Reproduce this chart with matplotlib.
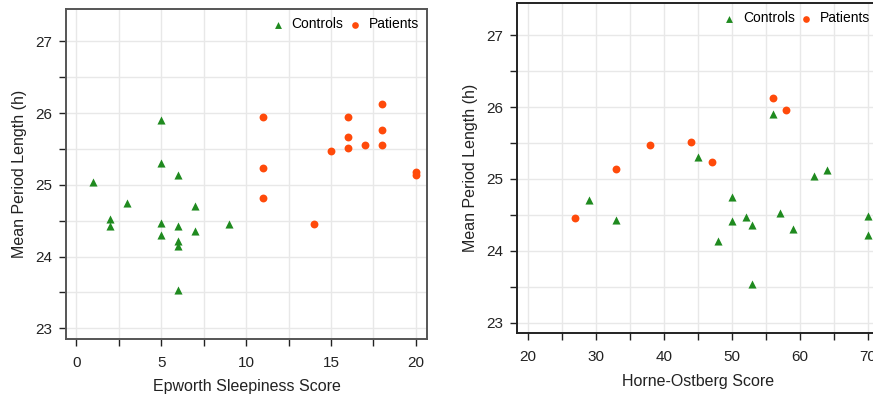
import matplotlib
matplotlib.use("Agg")
import matplotlib.pyplot as plt
from matplotlib.ticker import MultipleLocator

plt.rcParams['font.family'] = ['Liberation Sans', 'DejaVu Sans']
plt.rcParams['font.size'] = 10

# Epworth Sleepiness Score panel
ess_controls_x = [1, 2, 2, 3, 5, 5, 5, 5, 6, 6, 6, 6, 6, 7, 7, 9]
ess_controls_y = [25.04, 24.52, 24.42, 24.75, 25.90, 25.31, 24.47, 24.30,
                  25.13, 24.43, 24.21, 24.14, 23.53, 24.70, 24.36, 24.46]
ess_patients_x = [11, 11, 11, 14, 15, 16, 16, 16, 17, 18, 18, 18, 20, 20]
ess_patients_y = [25.95, 25.24, 24.81, 24.46, 25.47, 25.94, 25.66, 25.51,
                  25.56, 26.13, 25.76, 25.56, 25.18, 25.14]

# Horne-Ostberg Score panel (visible part)
ho_controls_x = [29, 33, 45, 48, 50, 50, 52, 53, 53, 56, 57, 59, 62, 64, 70, 70]
ho_controls_y = [24.70, 24.43, 25.31, 24.14, 24.75, 24.42, 24.47, 24.36,
                 23.53, 25.91, 24.52, 24.30, 25.04, 25.13, 24.48, 24.22]
ho_patients_x = [27, 33, 38, 44, 47, 56, 58]
ho_patients_y = [24.46, 25.14, 25.47, 25.51, 25.24, 26.13, 25.96]

GREEN = '#1f8a1f'
ORANGE = '#ff4a0a'

fig = plt.figure(figsize=(8.73, 3.98), dpi=100)
ax1 = fig.add_axes([0.0756, 0.1482, 0.4135, 0.8291])
ax2 = fig.add_axes([0.5926, 0.1626, 0.4135, 0.8299])


def style(ax, xlim, xmaj, xmin, xlabel, frame_color):
    ax.set_xlim(*xlim)
    ax.set_ylim(22.85, 27.45)
    ax.xaxis.set_major_locator(MultipleLocator(xmaj))
    ax.xaxis.set_minor_locator(MultipleLocator(xmin))
    ax.yaxis.set_major_locator(MultipleLocator(1))
    ax.yaxis.set_minor_locator(MultipleLocator(0.5))
    ax.grid(True, which='both', color='#e8e8e8', linewidth=1.0)
    ax.set_axisbelow(True)
    for s in ax.spines.values():
        s.set_color(frame_color)
        s.set_linewidth(1.4)
    ax.tick_params(which='both', direction='out', length=5, width=1,
                   color='#222222', labelcolor='#222222', labelsize=11)
    ax.tick_params(axis='x', which='both', pad=7)
    ax.tick_params(axis='y', which='both', pad=5)
    ax.tick_params(which='both', top=False, right=False)
    ax.set_xlabel(xlabel, fontsize=11.5, color='#222222', labelpad=7)
    ax.set_ylabel('Mean Period Length (h)', fontsize=11.5, color='#222222', labelpad=6)


for ax, cx, cy, px, py in [(ax1, ess_controls_x, ess_controls_y, ess_patients_x, ess_patients_y),
                           (ax2, ho_controls_x, ho_controls_y, ho_patients_x, ho_patients_y)]:
    ax.scatter(cx, cy, marker='^', s=34, color=GREEN, linewidths=0, label='Controls', zorder=3)
    ax.scatter(px, py, marker='o', s=32, color=ORANGE, linewidths=0, label='Patients', zorder=3)
    ax.legend(loc='upper right', ncol=2, frameon=False, fontsize=10,
              handletextpad=0.5, columnspacing=0.3, borderaxespad=0.2,
              handlelength=1.0, markerscale=0.85)

style(ax1, (-0.6, 20.65), 5, 2.5, 'Epworth Sleepiness Score', '#555555')
style(ax2, (18.47, 71.5), 10, 5, 'Horne-Ostberg Score', '#222222')

fig.savefig('out.png', dpi=100)
